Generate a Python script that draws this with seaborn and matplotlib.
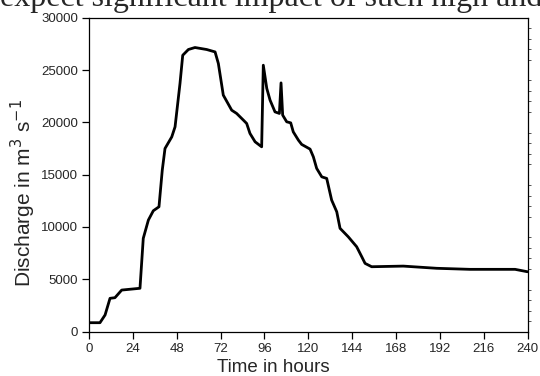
import numpy as np
import pandas as pd
import matplotlib
matplotlib.use("Agg")
import matplotlib.pyplot as plt
import seaborn as sns
from matplotlib.ticker import MultipleLocator

hours = [0, 6, 8.8, 11.5, 14.2, 17.9, 27.9, 29.7, 32.5, 35.2, 38.3, 40.1, 41.6, 45.3,
         47.1, 49.8, 51.3, 54.4, 58, 64.4, 69, 70.8, 73.5, 78.1, 80.8, 84.5, 86.3,
         88.1, 90.9, 94.5, 95.4, 97.3, 99.1, 101.8, 104.2, 105.1, 106, 108.2, 110.4,
         111.8, 114.6, 116.4, 121, 122.8, 124.6, 127.4, 130.1, 132.8, 135.6, 137.4,
         141.9, 146.5, 149.3, 151.1, 154.7, 172, 190.3, 208.5, 233.2, 240]
discharge = [850, 850, 1590, 3180, 3240, 3970, 4140, 8910, 10660, 11550, 11930, 15430,
             17500, 18610, 19570, 23710, 26410, 26960, 27150, 26960, 26730, 25620, 22600,
             21160, 20850, 20210, 19890, 18940, 18140, 17660, 25460, 23240, 22120, 21000,
             20850, 23770, 20690, 20050, 19950, 19090, 18300, 17890, 17440, 16700, 15600,
             14790, 14640, 12570, 11450, 9870, 9060, 8110, 7150, 6520, 6200, 6260, 6050,
             5950, 5950, 5720]
xticks = [0, 24, 48, 72, 96, 120, 144, 168, 192, 216, 240]
yticks = [0, 5000, 10000, 15000, 20000, 25000, 30000]

df = pd.DataFrame({"Time": hours, "Discharge": discharge})

sns.set_style("white")
plt.rcParams["font.family"] = ["Liberation Sans", "DejaVu Sans"]

fig = plt.figure(figsize=(5.4, 3.76), dpi=100)
ax = fig.add_axes([89/540, 1-331.6/376, 438.5/540, 313.9/376])

sns.lineplot(data=df, x="Time", y="Discharge", ax=ax, color="black",
             linewidth=2.0, estimator=None, sort=False)

ax.set_xlim(0, 240)
ax.set_ylim(0, 30000)
ax.set_xticks(xticks)
ax.set_yticks(yticks)
ax.set_xticklabels([str(t) for t in xticks], fontsize=9.5)
ax.set_yticklabels([str(t) for t in yticks], fontsize=9.5)

for s in ax.spines.values():
    s.set_color("black")
    s.set_linewidth(0.9)

ax.tick_params(axis="both", which="major", direction="out", length=5, width=0.9,
               color="black", pad=3, left=True, bottom=True)
ax.yaxis.set_minor_locator(MultipleLocator(1000))
ax.tick_params(axis="y", which="minor", right=True, left=False, direction="out",
               length=2.5, width=0.7, color="#555555")

ax.set_xlabel("Time in hours", fontsize=13.5)
ax.set_ylabel("Discharge in m$^3$ s$^{-1}$", fontsize=15)
ax.xaxis.set_label_coords(0.42, -0.128)
ax.xaxis.label.set_verticalalignment("baseline")
ax.yaxis.set_label_coords(-0.15, 0.44)
ax.yaxis.label.set_verticalalignment("center")

fig.text(0, 1-6/376, "expect significant impact of such high and",
         family=["Liberation Serif", "DejaVu Serif"], fontsize=23,
         ha="left", va="baseline")

fig.savefig("out.png", dpi=100, facecolor="white")
